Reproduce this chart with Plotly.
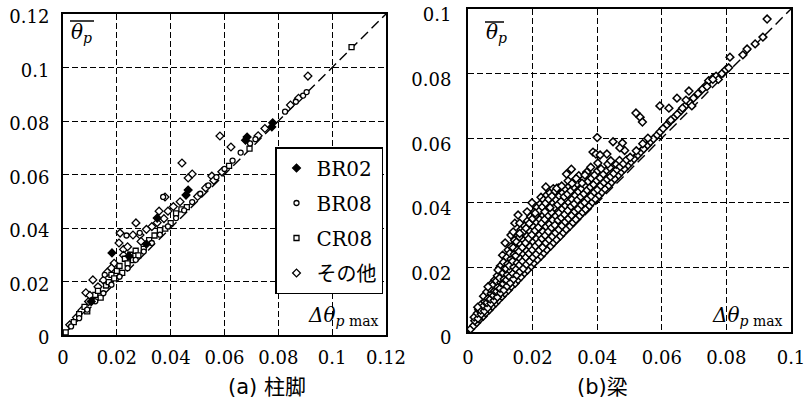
import plotly.graph_objects as go

# ---------------- data: (a) 柱脚 (column base) ----------------
col_br02 = [(0.0105, 0.0125), (0.0182, 0.0307), (0.0245, 0.0295), (0.0310, 0.0340),
            (0.0350, 0.0437), (0.0457, 0.0523), (0.0465, 0.0542), (0.0678, 0.0728),
            (0.0684, 0.0740), (0.0776, 0.0778), (0.0779, 0.0793)]
col_br08 = [(0.003, 0.0032), (0.006, 0.0063), (0.009, 0.0095), (0.012, 0.0126), (0.015, 0.0156),
            (0.018, 0.0188), (0.021, 0.0218), (0.024, 0.0250), (0.027, 0.0281), (0.030, 0.0312),
            (0.033, 0.0344), (0.036, 0.0375), (0.039, 0.0406), (0.042, 0.0437), (0.045, 0.0466),
            (0.048, 0.0497), (0.051, 0.0528), (0.054, 0.0559), (0.057, 0.0590), (0.060, 0.0621),
            (0.063, 0.0652), (0.066, 0.0682), (0.0695, 0.0716), (0.0715, 0.0732), (0.0825, 0.0835),
            (0.0865, 0.0872), (0.0892, 0.0895), (0.0905, 0.0908), (0.0372, 0.0516), (0.0236, 0.0372),
            (0.0155, 0.0225), (0.0285, 0.0382)]
col_cr08 = [(0.001, 0.001), (0.004, 0.0048), (0.006, 0.0078), (0.008, 0.0105), (0.009, 0.0088),
            (0.011, 0.0128), (0.012, 0.0150), (0.013, 0.0165), (0.014, 0.0140), (0.016, 0.0185),
            (0.017, 0.0198), (0.018, 0.0225), (0.019, 0.0212), (0.020, 0.0240), (0.021, 0.0258),
            (0.022, 0.0232), (0.023, 0.0285), (0.024, 0.0268), (0.025, 0.0300), (0.026, 0.0280),
            (0.027, 0.0315), (0.028, 0.0298), (0.030, 0.0322), (0.032, 0.0355), (0.034, 0.0372),
            (0.036, 0.0392), (0.038, 0.0398), (0.040, 0.0418), (0.042, 0.0455), (0.044, 0.0470),
            (0.046, 0.0478), (0.0617, 0.0632), (0.0693, 0.0697), (0.1072, 0.1076)]
col_other = [(0.0025, 0.0038), (0.005, 0.0065), (0.007, 0.0092), (0.0095, 0.0125), (0.0111, 0.0206),
             (0.0085, 0.0158), (0.010, 0.0148), (0.013, 0.0180), (0.015, 0.0205), (0.0165, 0.0235),
             (0.019, 0.0268), (0.0208, 0.0344), (0.0212, 0.0381), (0.0225, 0.0320), (0.026, 0.0374),
             (0.0286, 0.0374), (0.0271, 0.0419), (0.0357, 0.0463), (0.039, 0.0463), (0.0379, 0.0516),
             (0.0442, 0.0643), (0.0480, 0.0602), (0.0465, 0.0587), (0.0553, 0.0594), (0.0583, 0.0744),
             (0.0624, 0.0703), (0.0910, 0.0968), (0.033, 0.0405), (0.035, 0.0420), (0.031, 0.0395),
             (0.024, 0.0330), (0.018, 0.0250), (0.0225, 0.0298), (0.029, 0.0350), (0.0375, 0.0435),
             (0.041, 0.0480), (0.0435, 0.0498), (0.050, 0.0518), (0.053, 0.0550), (0.056, 0.0578),
             (0.059, 0.0610), (0.0725, 0.0745), (0.075, 0.0772), (0.0845, 0.0860), (0.0875, 0.0885)]

# ---------------- data: (b) 梁 (beam) ----------------
beam_line = [(0.0008, 0.0009), (0.0018, 0.0020), (0.0027, 0.0029), (0.0036, 0.0039), (0.0047, 0.0049),
             (0.0055, 0.0059), (0.0066, 0.0069), (0.0075, 0.0079), (0.0086, 0.0090), (0.0094, 0.0099),
             (0.0105, 0.0110), (0.0114, 0.0120), (0.0125, 0.0130), (0.0134, 0.0141), (0.0146, 0.0151),
             (0.0155, 0.0162), (0.0164, 0.0171), (0.0175, 0.0183), (0.0184, 0.0192), (0.0196, 0.0204),
             (0.0204, 0.0214), (0.0215, 0.0224), (0.0226, 0.0235), (0.0235, 0.0245), (0.0244, 0.0255),
             (0.0256, 0.0266), (0.0265, 0.0277), (0.0274, 0.0286), (0.0286, 0.0297), (0.0295, 0.0308),
             (0.0304, 0.0318), (0.0316, 0.0328), (0.0325, 0.0339), (0.0334, 0.0349), (0.0346, 0.0360),
             (0.0355, 0.0371), (0.0364, 0.0380), (0.0376, 0.0391), (0.0385, 0.0402), (0.0394, 0.0412),
             (0.0406, 0.0423), (0.0415, 0.0433), (0.0424, 0.0443), (0.0436, 0.0454), (0.0445, 0.0464),
             (0.0454, 0.0474), (0.0466, 0.0486), (0.0475, 0.0496), (0.0484, 0.0505), (0.0496, 0.0517),
             (0.0505, 0.0527), (0.0514, 0.0536), (0.0526, 0.0548), (0.0535, 0.0558), (0.0544, 0.0567),
             (0.0556, 0.0579), (0.0565, 0.0589), (0.0574, 0.0598), (0.0586, 0.0610), (0.0595, 0.0620),
             (0.0604, 0.0630), (0.0616, 0.0642), (0.0625, 0.0652), (0.0636, 0.0662), (0.0648, 0.0674),
             (0.0660, 0.0686), (0.0672, 0.0699), (0.0685, 0.0712), (0.0698, 0.0724), (0.0712, 0.0738),
             (0.0726, 0.0752), (0.0738, 0.0764), (0.0745, 0.0778), (0.0758, 0.0786), (0.0768, 0.0792),
             (0.0775, 0.0782), (0.0786, 0.0800), (0.0798, 0.0812), (0.0807, 0.0818), (0.0851, 0.0858),
             (0.0864, 0.0876), (0.0889, 0.0892), (0.0913, 0.0913)]
beam_cloud = [
    (0.0021, 0.0035), (0.0019, 0.0046), (0.0031, 0.0042), (0.0029, 0.0058), (0.0033, 0.0069),
    (0.0041, 0.0055), (0.0039, 0.0068), (0.0042, 0.0086), (0.0051, 0.0065), (0.0049, 0.0081),
    (0.0052, 0.0094), (0.0048, 0.0111), (0.0061, 0.0075), (0.0059, 0.0091), (0.0062, 0.0104),
    (0.0058, 0.0124), (0.0071, 0.0088), (0.0069, 0.0102), (0.0072, 0.0119), (0.0068, 0.0134),
    (0.0074, 0.0150), (0.0081, 0.0098), (0.0079, 0.0113), (0.0082, 0.0127), (0.0078, 0.0146),
    (0.0083, 0.0161), (0.0091, 0.0108), (0.0089, 0.0126), (0.0092, 0.0139), (0.0088, 0.0158),
    (0.0091, 0.0174), (0.0101, 0.0121), (0.0099, 0.0135), (0.0102, 0.0153), (0.0098, 0.0167),
    (0.0103, 0.0186), (0.0100, 0.0204), (0.0111, 0.0130), (0.0109, 0.0149), (0.0112, 0.0164),
    (0.0108, 0.0183), (0.0113, 0.0197), (0.0110, 0.0216), (0.0107, 0.0238), (0.0121, 0.0142),
    (0.0119, 0.0161), (0.0122, 0.0177), (0.0118, 0.0196), (0.0123, 0.0211), (0.0120, 0.0231),
    (0.0124, 0.0254), (0.0131, 0.0152), (0.0129, 0.0171), (0.0132, 0.0189), (0.0128, 0.0205),
    (0.0133, 0.0226), (0.0130, 0.0244), (0.0134, 0.0264), (0.0141, 0.0164), (0.0139, 0.0181),
    (0.0142, 0.0201), (0.0138, 0.0219), (0.0143, 0.0241), (0.0140, 0.0261), (0.0144, 0.0284),
    (0.0151, 0.0176), (0.0149, 0.0194), (0.0152, 0.0214), (0.0148, 0.0236), (0.0153, 0.0254),
    (0.0150, 0.0279), (0.0154, 0.0299), (0.0161, 0.0187), (0.0159, 0.0207), (0.0162, 0.0227),
    (0.0158, 0.0249), (0.0163, 0.0271), (0.0160, 0.0294), (0.0164, 0.0317), (0.0171, 0.0196),
    (0.0169, 0.0219), (0.0172, 0.0241), (0.0168, 0.0262), (0.0173, 0.0284), (0.0170, 0.0309),
    (0.0174, 0.0329), (0.0181, 0.0209), (0.0179, 0.0231), (0.0182, 0.0251), (0.0178, 0.0276),
    (0.0183, 0.0297), (0.0180, 0.0321), (0.0184, 0.0344), (0.0191, 0.0219), (0.0189, 0.0243),
    (0.0192, 0.0264), (0.0188, 0.0289), (0.0193, 0.0311), (0.0190, 0.0336), (0.0194, 0.0357),
    (0.0201, 0.0231), (0.0199, 0.0254), (0.0202, 0.0279), (0.0198, 0.0301), (0.0203, 0.0325),
    (0.0200, 0.0351), (0.0204, 0.0371), (0.0211, 0.0241), (0.0209, 0.0266), (0.0212, 0.0289),
    (0.0208, 0.0314), (0.0213, 0.0339), (0.0210, 0.0362), (0.0214, 0.0386), (0.0221, 0.0253),
    (0.0219, 0.0276), (0.0222, 0.0301), (0.0218, 0.0324), (0.0223, 0.0349), (0.0220, 0.0374),
    (0.0224, 0.0397), (0.0226, 0.0417), (0.0231, 0.0262), (0.0229, 0.0289), (0.0232, 0.0311),
    (0.0228, 0.0337), (0.0233, 0.0361), (0.0230, 0.0387), (0.0234, 0.0409), (0.0241, 0.0276),
    (0.0239, 0.0299), (0.0242, 0.0326), (0.0238, 0.0349), (0.0243, 0.0376), (0.0240, 0.0399),
    (0.0244, 0.0424), (0.0251, 0.0286), (0.0249, 0.0311), (0.0252, 0.0334), (0.0248, 0.0361),
    (0.0253, 0.0384), (0.0250, 0.0411), (0.0254, 0.0431), (0.0261, 0.0296), (0.0259, 0.0323),
    (0.0262, 0.0347), (0.0258, 0.0371), (0.0263, 0.0399), (0.0260, 0.0421), (0.0264, 0.0444),
    (0.0271, 0.0307), (0.0269, 0.0331), (0.0272, 0.0359), (0.0268, 0.0386), (0.0273, 0.0409),
    (0.0270, 0.0436), (0.0281, 0.0317), (0.0279, 0.0346), (0.0282, 0.0369), (0.0278, 0.0394),
    (0.0283, 0.0421), (0.0280, 0.0446), (0.0291, 0.0329), (0.0289, 0.0354), (0.0292, 0.0381),
    (0.0288, 0.0404), (0.0293, 0.0431), (0.0301, 0.0341), (0.0299, 0.0364), (0.0302, 0.0391),
    (0.0298, 0.0419), (0.0303, 0.0441), (0.0305, 0.0489), (0.0311, 0.0351), (0.0309, 0.0376),
    (0.0312, 0.0401), (0.0308, 0.0427), (0.0313, 0.0451), (0.0321, 0.0361), (0.0319, 0.0389),
    (0.0322, 0.0411), (0.0318, 0.0437), (0.0323, 0.0463), (0.0320, 0.0504), (0.0331, 0.0373),
    (0.0329, 0.0397), (0.0332, 0.0423), (0.0328, 0.0449), (0.0341, 0.0381), (0.0339, 0.0409),
    (0.0342, 0.0434), (0.0338, 0.0459), (0.0343, 0.0484), (0.0351, 0.0393), (0.0349, 0.0419),
    (0.0352, 0.0444), (0.0361, 0.0401), (0.0359, 0.0428), (0.0362, 0.0454), (0.0358, 0.0474),
    (0.0371, 0.0413), (0.0369, 0.0439), (0.0372, 0.0466), (0.0368, 0.0494), (0.0381, 0.0421),
    (0.0379, 0.0449), (0.0382, 0.0476), (0.0391, 0.0433), (0.0389, 0.0457), (0.0392, 0.0486),
    (0.0401, 0.0441), (0.0399, 0.0469), (0.0402, 0.0499), (0.0411, 0.0453), (0.0409, 0.0477),
    (0.0421, 0.0463), (0.0419, 0.0489), (0.0431, 0.0473), (0.0429, 0.0501), (0.0441, 0.0481),
    (0.0439, 0.0509), (0.0451, 0.0491), (0.0461, 0.0503), (0.0459, 0.0519), (0.0471, 0.0512),
    (0.0469, 0.0531), (0.0481, 0.0521), (0.0491, 0.0533), (0.0502, 0.0541), (0.0521, 0.0561),
    (0.0541, 0.0583)]
beam_outliers = [(0.0926, 0.0969), (0.0811, 0.0851), (0.0400, 0.0602), (0.0449, 0.0589), (0.0478, 0.0585),
                 (0.0485, 0.0562), (0.0470, 0.0570), (0.0557, 0.0600), (0.0533, 0.0665), (0.0520, 0.0678),
                 (0.0540, 0.0650), (0.0594, 0.0700), (0.0622, 0.0693), (0.0628, 0.0656), (0.0647, 0.0724),
                 (0.0675, 0.0718), (0.0684, 0.0746), (0.0664, 0.0693), (0.0693, 0.0700), (0.0740, 0.0760),
                 (0.0758, 0.0782), (0.0387, 0.0557), (0.0396, 0.0551), (0.0402, 0.0523), (0.0368, 0.0495),
                 (0.0362, 0.0486), (0.0353, 0.0461), (0.0241, 0.0449), (0.0430, 0.0551), (0.0433, 0.0520),
                 (0.0409, 0.0548), (0.0380, 0.0510), (0.0412, 0.0505), (0.0442, 0.0530), (0.0275, 0.0445),
                 (0.0290, 0.0452), (0.0310, 0.0468), (0.0322, 0.0460), (0.0335, 0.0475), (0.0198, 0.0400),
                 (0.0155, 0.0362), (0.0183, 0.0372), (0.0208, 0.0368), (0.0238, 0.0372), (0.0254, 0.0385),
                 (0.0145, 0.0337), (0.0160, 0.0337), (0.0133, 0.0300), (0.0140, 0.0310), (0.0160, 0.0305),
                 (0.0115, 0.0276), (0.0093, 0.0192), (0.0062, 0.0140), (0.0030, 0.0077)]

# axes / ticks / reference lines
left_range = [0, 0.12]
right_range = [0, 0.1]
left_ticks = [0, 0.02, 0.04, 0.06, 0.08, 0.1, 0.12]
left_ticktext = ["0", "0.02", "0.04", "0.06", "0.08", "0.1", "0.12"]
right_ticks = [0, 0.02, 0.04, 0.06, 0.08, 0.1]
right_ticktext = ["0", "0.02", "0.04", "0.06", "0.08", "0.1"]
legend_names = ["BR02", "BR08", "CR08", "その他"]

W, H = 806, 418
SERIF = "DejaVu Serif"


def px(v):
    return v / W


def py(v):
    return 1 - v / H


def xs(p):
    return [a for a, b in p]


def ys(p):
    return [b for a, b in p]


fig = go.Figure()

# reference lines y = x
fig.add_trace(go.Scatter(x=left_range, y=left_range, mode="lines", xaxis="x", yaxis="y",
                         line=dict(color="black", width=1.4, dash="10px,5px"),
                         showlegend=False, hoverinfo="skip"))
fig.add_trace(go.Scatter(x=right_range, y=right_range, mode="lines", xaxis="x2", yaxis="y2",
                         line=dict(color="black", width=1.4, dash="10px,5px"),
                         showlegend=False, hoverinfo="skip"))

mk_line = dict(color="black", width=1.3)
left_series = [
    (col_other, legend_names[3], dict(symbol="diamond", size=6, color="white", line=mk_line)),
    (col_cr08, legend_names[2], dict(symbol="square", size=5, color="white", line=mk_line)),
    (col_br08, legend_names[1], dict(symbol="circle", size=5, color="white", line=mk_line)),
    (col_br02, legend_names[0], dict(symbol="diamond", size=6, color="black", line=mk_line)),
]
rank = {legend_names[i]: i for i in range(4)}
for pts, name, mk in left_series:
    fig.add_trace(go.Scatter(x=xs(pts), y=ys(pts), mode="markers", name=name, marker=mk,
                             xaxis="x", yaxis="y", legendgroup=name, legendrank=rank[name] + 1))

beam_mk = dict(symbol="diamond", size=6, color="white", line=dict(color="black", width=1.5))
for pts in (beam_line, beam_cloud, beam_outliers):
    fig.add_trace(go.Scatter(x=xs(pts), y=ys(pts), mode="markers", marker=beam_mk,
                             xaxis="x2", yaxis="y2", showlegend=False))

axis_common = dict(
    showline=True, mirror=True, linecolor="black", linewidth=2,
    showgrid=True, gridcolor="black", gridwidth=1.2, griddash="6px,3px",
    zeroline=False, ticks="outside", tickcolor="rgba(0,0,0,0)", automargin=False,
    ticklabeloverflow="allow",
    tickfont=dict(family=SERIF, size=18, color="black"),
)

fig.update_layout(
    template="none",
    width=W, height=H,
    margin=dict(l=0, r=0, t=0, b=0, pad=0),
    paper_bgcolor="white", plot_bgcolor="white",
    xaxis=dict(axis_common, domain=[px(63), px(386)], range=left_range,
               tickvals=left_ticks, ticktext=left_ticktext, ticklen=5, anchor="y"),
    yaxis=dict(axis_common, domain=[py(335), py(14)], range=left_range,
               tickvals=left_ticks, ticktext=left_ticktext, ticklen=8, anchor="x",
               ticklabelshift=3),
    xaxis2=dict(axis_common, domain=[px(468), px(791)], range=right_range,
                tickvals=right_ticks, ticktext=right_ticktext, ticklen=8, anchor="y2"),
    yaxis2=dict(axis_common, domain=[py(332), py(9)], range=right_range,
                tickvals=right_ticks, ticktext=right_ticktext, ticklen=11, anchor="x2",
                ticklabelshift=6),
    legend=dict(x=px(275), y=py(147), xanchor="left", yanchor="top",
                bgcolor="white", bordercolor="black", borderwidth=1.5,
                font=dict(family="DejaVu Serif, Noto Sans CJK JP", size=20, color="black"),
                tracegroupgap=6, itemsizing="trace", traceorder="grouped", itemwidth=30),
    showlegend=True,
)

ann_font = dict(family=SERIF, size=20, color="black")
annotations = [
    dict(x=px(69), y=py(33), text="<i>θ</i><sub><i>p</i></sub>"),
    dict(x=px(484), y=py(33), text="<i>θ</i><sub><i>p</i></sub>"),
    dict(x=px(381), y=py(316), text="<i>Δθ</i><sub><i>p</i> max</sub>", xanchor="right"),
    dict(x=px(785), y=py(316), text="<i>Δθ</i><sub><i>p</i> max</sub>", xanchor="right"),
]
for a in annotations:
    a.setdefault("xanchor", "left")
    fig.add_annotation(xref="paper", yref="paper", yanchor="middle", showarrow=False,
                       font=ann_font, **a)

title_font = dict(family="DejaVu Sans, Noto Sans CJK JP", size=21, color="black")
fig.add_annotation(xref="paper", yref="paper", x=px(226), y=py(401), text="(a) 柱脚",
                   showarrow=False, font=title_font)
fig.add_annotation(xref="paper", yref="paper", x=px(630), y=py(401), text="(b)梁",
                   showarrow=False, font=title_font)

# overbars on θ
for x0, x1, yy in [(70, 94, 21), (485, 504, 22)]:
    fig.add_shape(type="line", xref="paper", yref="paper", x0=px(x0), x1=px(x1), y0=py(yy), y1=py(yy),
                  line=dict(color="black", width=1.5))

fig.write_html("out.html", config={"displayModeBar": False},
               post_script="document.body.style.margin='0';")
